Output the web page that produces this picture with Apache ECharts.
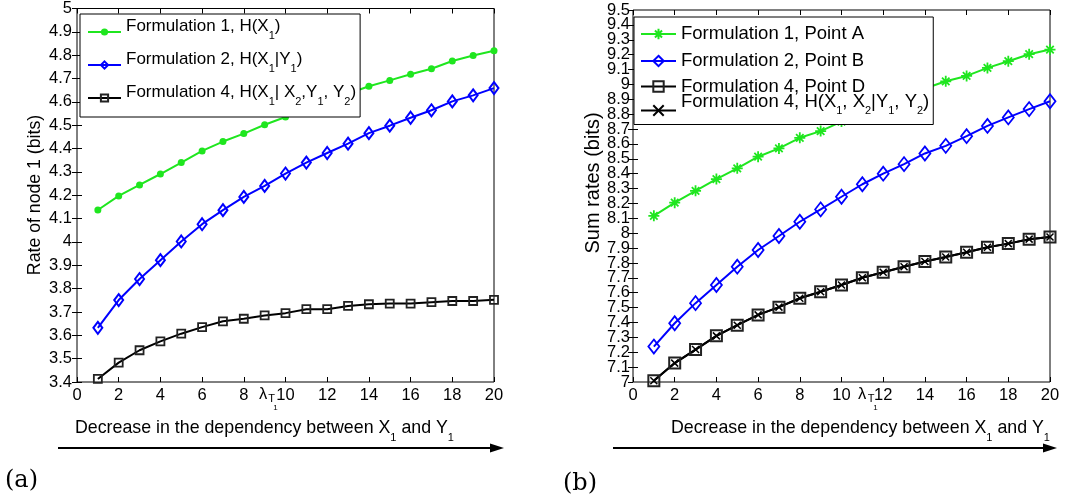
<!DOCTYPE html>
<html><head><meta charset="utf-8">
<script src="https://cdn.jsdelivr.net/npm/echarts@6/dist/echarts.min.js"></script>
<style>html,body{margin:0;padding:0;background:#fff}#c{width:1085px;height:503px}</style>
</head><body><div id="c"></div>
<script>
// ---------- data ----------
const xs = [1,2,3,4,5,6,7,8,9,10,11,12,13,14,15,16,17,18,19,20];
const xTicks = [0,2,4,6,8,10,12,14,16,18,20];

// (a) Rate of node 1 (bits)
const leftF1 = [4.137,4.197,4.244,4.291,4.340,4.390,4.430,4.464,4.502,4.535,4.570,4.600,4.635,4.667,4.692,4.718,4.742,4.775,4.799,4.819];
const leftF2 = [3.632,3.751,3.841,3.922,4.002,4.076,4.136,4.193,4.240,4.293,4.340,4.381,4.421,4.466,4.498,4.532,4.564,4.602,4.628,4.659];
const leftF4 = [3.413,3.483,3.536,3.574,3.607,3.635,3.660,3.671,3.685,3.695,3.712,3.712,3.726,3.733,3.736,3.736,3.742,3.747,3.747,3.752];

// (b) Sum rates (bits)
const rightA = [8.117,8.205,8.285,8.364,8.436,8.514,8.570,8.641,8.686,8.750,8.810,8.865,8.920,8.972,9.021,9.057,9.111,9.156,9.203,9.234];
const rightB = [7.238,7.395,7.530,7.652,7.775,7.887,7.981,8.077,8.160,8.245,8.329,8.400,8.464,8.536,8.587,8.652,8.721,8.778,8.834,8.887];
const rightD = [7.008,7.127,7.218,7.310,7.382,7.451,7.503,7.563,7.607,7.652,7.701,7.737,7.775,7.810,7.840,7.872,7.905,7.930,7.960,7.975];
const rightH = [7.008,7.127,7.218,7.310,7.382,7.451,7.503,7.563,7.607,7.652,7.701,7.737,7.775,7.810,7.840,7.872,7.905,7.930,7.960,7.975];

const namesLeft = ['Formulation 1, H(X1)', 'Formulation 2, H(X1|Y1)', 'Formulation 4, H(X1| X2,Y1, Y2)'];
const namesRight = ['Formulation 1, Point A', 'Formulation 2, Point B', 'Formulation 4, Point D', 'Formulation 4, H(X1, X2|Y1, Y2)'];
const richNames = {
  'Formulation 1, H(X1)': 'Formulation 1, H(X{s|1})',
  'Formulation 2, H(X1|Y1)': 'Formulation 2, H(X{s|1}|Y{s|1})',
  'Formulation 4, H(X1| X2,Y1, Y2)': 'Formulation 4, H(X{s|1}| X{s|2},Y{s|1}, Y{s|2})',
  'Formulation 1, Point A': 'Formulation 1, Point A',
  'Formulation 2, Point B': 'Formulation 2, Point B',
  'Formulation 4, Point D': 'Formulation 4, Point D',
  'Formulation 4, H(X1, X2|Y1, Y2)': 'Formulation 4, H(X{s|1}, X{s|2}|Y{s|1}, Y{s|2})'
};
const yNameLeft = 'Rate of node 1 (bits)';
const yNameRight = 'Sum rates (bits)';
const xDesc = 'Decrease in the dependency between X{s|1} and Y{s|1}';

// ---------- style ----------
const FONT = 'Liberation Sans';
const GREEN = '#1fe61f', BLUE = '#0000ff', BLACK = '#000000';
const ASTER = 'path://M5,0L5,10M0,5L10,5M1.6,1.6L8.4,8.4M8.4,1.6L1.6,8.4';
const XMARK = 'path://M0,0L10,10M10,0L0,10';
const subRich = { s: { fontSize: 11, lineHeight: 11, verticalAlign: 'bottom', fontFamily: FONT, color: '#000' } };
const BOX = 'rgba(255,255,255,0)';

const pairs = arr => xs.map((x, i) => [x, arr[i]]);
const fmtY = v => String(Math.round(v * 10) / 10);
const near = (a, b) => Math.abs(a - b) < 1e-6;

const tickStyle = { inside: true, length: 5, lineStyle: { color: '#000' } };
const labelFont = { fontSize: 16.5, fontFamily: FONT, color: '#000' };

function xAxisPair(gi) {
  return [
    { gridIndex: gi, type: 'value', min: 0, max: 20, interval: 2, position: 'bottom',
      axisLine: { show: false }, splitLine: { show: false }, axisTick: tickStyle,
      axisLabel: Object.assign({ margin: 5, showMinLabel: true, showMaxLabel: true, hideOverlap: false,
        formatter: v => xTicks.indexOf(v) >= 0 ? String(v) : '' }, labelFont) },
    { gridIndex: gi, type: 'value', min: 0, max: 20, interval: 2, position: 'top',
      axisLine: { show: false }, splitLine: { show: false }, axisTick: tickStyle,
      axisLabel: { show: false } }
  ];
}

const yAxes = [
  // (a) left + right
  { gridIndex: 0, type: 'value', min: 3.4, max: 5, interval: 0.1, position: 'left',
    axisLine: { show: false }, splitLine: { show: false }, axisTick: tickStyle,
    axisLabel: Object.assign({ margin: 5, formatter: fmtY, showMinLabel: true, showMaxLabel: true, hideOverlap: false }, labelFont) },
  { gridIndex: 0, type: 'value', min: 3.4, max: 5, interval: 0.1, position: 'right',
    axisLine: { show: false }, splitLine: { show: false }, axisTick: tickStyle, axisLabel: { show: false } },
  // (b) left (inner labels) + right
  { gridIndex: 1, type: 'value', min: 7, max: 9.5, interval: 0.1, position: 'left',
    axisLine: { show: false }, splitLine: { show: false }, axisTick: tickStyle,
    axisLabel: Object.assign({ margin: 3, formatter: fmtY, showMinLabel: false, showMaxLabel: false, hideOverlap: false }, labelFont) },
  { gridIndex: 1, type: 'value', min: 7, max: 9.5, interval: 0.1, position: 'right',
    axisLine: { show: false }, splitLine: { show: false }, axisTick: tickStyle, axisLabel: { show: false } },
  // (b) end labels (7 and 9.5)
  { gridIndex: 1, type: 'value', min: 7, max: 9.5, interval: 0.1, position: 'left',
    axisLine: { show: false }, splitLine: { show: false }, axisTick: { show: false },
    axisLabel: Object.assign({ margin: 3, showMinLabel: true, showMaxLabel: true, hideOverlap: false,
      formatter: v => (near(v, 7) || near(v, 9.5)) ? fmtY(v) : '' }, labelFont) }
];

const transparent = 'rgba(255,255,255,0)';

const series = [
  { name: namesLeft[0], type: 'line', xAxisIndex: 0, yAxisIndex: 0, data: pairs(leftF1),
    symbol: 'circle', symbolSize: 7, lineStyle: { color: GREEN, width: 2 },
    itemStyle: { color: GREEN, borderColor: GREEN, borderWidth: 0 } },
  { name: namesLeft[1], type: 'line', xAxisIndex: 0, yAxisIndex: 0, data: pairs(leftF2),
    symbol: 'diamond', symbolSize: [9, 12], lineStyle: { color: BLUE, width: 2 },
    itemStyle: { color: transparent, borderColor: BLUE, borderWidth: 2 } },
  { name: namesLeft[2], type: 'line', xAxisIndex: 0, yAxisIndex: 0, data: pairs(leftF4),
    symbol: 'rect', symbolSize: 8, lineStyle: { color: BLACK, width: 2 },
    itemStyle: { color: transparent, borderColor: '#222', borderWidth: 1.8 } },

  { name: namesRight[0], type: 'line', xAxisIndex: 2, yAxisIndex: 2, data: pairs(rightA),
    symbol: ASTER, symbolSize: 11, lineStyle: { color: GREEN, width: 2 },
    itemStyle: { color: GREEN, borderColor: GREEN, borderWidth: 1.8 } },
  { name: namesRight[1], type: 'line', xAxisIndex: 2, yAxisIndex: 2, data: pairs(rightB),
    symbol: 'diamond', symbolSize: [11, 14], lineStyle: { color: BLUE, width: 2 },
    itemStyle: { color: transparent, borderColor: BLUE, borderWidth: 1.8 } },
  { name: namesRight[2], type: 'line', xAxisIndex: 2, yAxisIndex: 2, data: pairs(rightD),
    symbol: 'rect', symbolSize: 11, lineStyle: { color: BLACK, width: 2 },
    itemStyle: { color: transparent, borderColor: '#222', borderWidth: 2 } },
  { name: namesRight[3], type: 'line', xAxisIndex: 2, yAxisIndex: 2, data: pairs(rightH),
    symbol: XMARK, symbolSize: 7, lineStyle: { color: BLACK, width: 2 },
    itemStyle: { color: BLACK, borderColor: BLACK, borderWidth: 1.5 } }
];

const legendBase = {
  orient: 'vertical', selectedMode: false, borderColor: '#000', borderWidth: 1,
  backgroundColor: '#fff', borderRadius: 0,
  formatter: n => richNames[n] || n
};
const rightRowStyle = [
  { lineHeight: 22 },
  { lineHeight: 40 },
  { lineHeight: 18 },
  { lineHeight: 30, padding: [-14, 0, 4, 0] }
];

const option = {
  animation: false,
  backgroundColor: '#fff',
  grid: [
    { left: 77, top: 8, width: 417, height: 374, show: true, borderColor: '#000', borderWidth: 1, backgroundColor: 'transparent' },
    { left: 633, top: 10, width: 417, height: 372, show: true, borderColor: '#000', borderWidth: 1, backgroundColor: 'transparent' }
  ],
  xAxis: [...xAxisPair(0), ...xAxisPair(1)],
  yAxis: yAxes,
  legend: [
    Object.assign({}, legendBase, {
      left: 80, top: 14, itemWidth: 33, itemHeight: 9, itemGap: 3, padding: [3, 4, 4, 7],
      textStyle: { fontSize: 17, fontFamily: FONT, color: '#000', lineHeight: 30, rich: subRich,
        backgroundColor: BOX, padding: [-6, 0, 6, 0] },
      data: namesLeft.map(n => ({ name: n }))
    }),
    Object.assign({}, legendBase, {
      left: 634, top: 17, itemWidth: 35, itemHeight: 13, itemGap: -4, padding: [6, 4, 4, 6],
      textStyle: { fontSize: 18.5, fontFamily: FONT, color: '#000', lineHeight: 26, rich: subRich,
        backgroundColor: BOX },
      data: namesRight.map((n, i) => ({ name: n, textStyle: rightRowStyle[i] }))
    })
  ],
  graphic: [
    // y-axis names
    { type: 'text', x: 35, y: 195, rotation: Math.PI / 2,
      style: { text: yNameLeft, fontSize: 17.7, fontFamily: FONT, fill: '#000', align: 'center', verticalAlign: 'middle' } },
    { type: 'text', x: 593, y: 183, rotation: Math.PI / 2,
      style: { text: yNameRight, fontSize: 20, fontFamily: FONT, fill: '#000', align: 'center', verticalAlign: 'middle' } },
    // lambda_T1 annotations
    { type: 'text', x: 263, y: 394, style: { text: 'λ', fontSize: 16.5, fontFamily: FONT, fill: '#000', align: 'center', verticalAlign: 'middle' } },
    { type: 'text', x: 271.5, y: 399, style: { text: 'T', fontSize: 11, fontFamily: FONT, fill: '#000', align: 'center', verticalAlign: 'middle' } },
    { type: 'text', x: 275.5, y: 408, style: { text: '1', fontSize: 8, fontFamily: FONT, fill: '#000', align: 'center', verticalAlign: 'middle' } },
    { type: 'text', x: 862, y: 394, style: { text: 'λ', fontSize: 16.5, fontFamily: FONT, fill: '#000', align: 'center', verticalAlign: 'middle' } },
    { type: 'text', x: 871, y: 399, style: { text: 'T', fontSize: 11, fontFamily: FONT, fill: '#000', align: 'center', verticalAlign: 'middle' } },
    { type: 'text', x: 875.5, y: 408, style: { text: '1', fontSize: 8, fontFamily: FONT, fill: '#000', align: 'center', verticalAlign: 'middle' } },
    // x-axis descriptions
    { type: 'text', x: 75, y: 428, style: { text: xDesc,
        fontSize: 17.8, lineHeight: 30, fontFamily: FONT, fill: '#000', verticalAlign: 'middle', rich: subRich } },
    { type: 'text', x: 671, y: 428, style: { text: xDesc,
        fontSize: 17.8, lineHeight: 30, fontFamily: FONT, fill: '#000', verticalAlign: 'middle', rich: subRich } },
    // arrows
    { type: 'line', shape: { x1: 58, y1: 448, x2: 496, y2: 448 }, style: { stroke: '#000', lineWidth: 2 } },
    { type: 'polygon', shape: { points: [[490, 443.5], [504, 448], [490, 452.5]] }, style: { fill: '#000' } },
    { type: 'line', shape: { x1: 613, y1: 448, x2: 1050, y2: 448 }, style: { stroke: '#000', lineWidth: 2 } },
    { type: 'polygon', shape: { points: [[1043, 443.5], [1057, 448], [1043, 452.5]] }, style: { fill: '#000' } },
    // panel labels
    { type: 'text', x: 5, y: 481, style: { text: '(a)', fontSize: 24, fontFamily: 'DejaVu Serif', fill: '#000', verticalAlign: 'middle' } },
    { type: 'text', x: 563, y: 484, style: { text: '(b)', fontSize: 24, fontFamily: 'DejaVu Serif', fill: '#000', verticalAlign: 'middle' } }
  ],
  series: series
};

const chart = echarts.init(document.getElementById('c'), null, { renderer: 'canvas' });
chart.setOption(option);
</script>
</body></html>
